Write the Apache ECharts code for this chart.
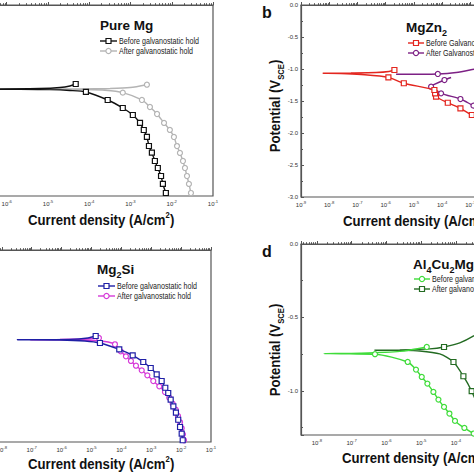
<!DOCTYPE html>
<html><head><meta charset="utf-8">
<script src="https://cdn.jsdelivr.net/npm/echarts@6/dist/echarts.min.js"></script>
<style>html,body{margin:0;padding:0;background:#fff}#c{width:474px;height:474px}</style>
</head><body><div id="c"></div>
<script>
// ---------- data (current density A/cm², potential V) ----------
const panelTitles = ['Pure Mg', 'MgZn{sub|2}', 'Mg{sub|2}Si', 'Al{sub|4}Cu{sub|2}Mg{sub|8}Si{sub|7}'];
const panelLetters = ['b', 'd'];
const legendA = ['Before galvanostatic hold', 'After galvanostatic hold'];
const legendB = ['Before Galvanostatic hold', 'After Galvanostatic hold'];
const legendC = ['Before galvanostatic hold', 'After galvanostatic hold'];
const legendD = ['Before galvanostatic hold', 'After galvanostatic hold'];
const xTitle = 'Current density (A/cm{sup|2})';
const yTitle = 'Potential (V{sub|SCE})';

const pureMgBeforeI = [7.2e-3,6.1e-3,5.5e-3,4.6e-3,3.9e-3,3.3e-3,2.8e-3,2.5e-3,2.1e-3,1.7e-3,1.14e-3,6.5e-4,2.8e-4,8.3e-5,3.4e-5,1.1e-5,2.1e-6,4e-8,3e-9,4e-8,6.8e-7,6.3e-6,1.95e-5,3.4e-5,4.7e-5];
const pureMgBeforeE = [-2.953,-2.811,-2.686,-2.56,-2.45,-2.32,-2.215,-2.07,-1.963,-1.853,-1.728,-1.618,-1.492,-1.366,-1.343,-1.329,-1.324,-1.322,-1.321,-1.319,-1.318,-1.312,-1.296,-1.272,-1.241];
const pureMgBeforeM = [1,1,1,1,1,1,1,1,1,1,1,1,1,1,0,0,0,0,0,0,0,0,0,0,1];

const pureMgAfterI = [2.92e-2,2.61e-2,2.34e-2,2.09e-2,1.87e-2,1.58e-2,1.34e-2,1.13e-2,9.0e-3,6.5e-3,4.4e-3,2.96e-3,1.89e-3,6.5e-4,2.4e-4,7.8e-5,1.9e-5,1e-7,1e-6,5.9e-5,3.2e-4,9.8e-4,2.5e-3];
const pureMgAfterE = [-2.953,-2.811,-2.686,-2.56,-2.45,-2.324,-2.215,-2.073,-1.963,-1.853,-1.712,-1.602,-1.492,-1.377,-1.340,-1.329,-1.324,-1.322,-1.321,-1.319,-1.311,-1.296,-1.252];
const pureMgAfterM = [1,1,1,1,1,1,1,1,1,1,1,1,1,1,0,0,0,0,0,0,0,0,1];

const mgZn2BeforeI = [3.16e-3,1.13e-3,4.46e-4,1.59e-4,6.1e-5,5.65e-5,5.33e-5,4.4e-6,1.25e-6,1.35e-7,2.6e-8,6e-9,5.9e-8,4.6e-7,1.3e-6,2.04e-6];
const mgZn2BeforeE = [-1.80,-1.719,-1.614,-1.527,-1.433,-1.380,-1.328,-1.223,-1.130,-1.086,-1.070,-1.067,-1.0625,-1.055,-1.039,-1.016];
const mgZn2BeforeM = [1,1,1,1,1,1,1,1,1,0,0,0,0,0,0,1];

const mgZn2AfterI = [3.6e-3,1.29e-3,4.46e-4,9.2e-5,4.07e-5,1.21e-4,2.08e-4,null,2.34e-6,7.05e-5,3.16e-4,1.48e-3,5.5e-3];
const mgZn2AfterE = [-1.656,-1.573,-1.469,-1.380,-1.277,-1.172,-1.133,null,-1.083,-1.078,-1.055,-1.0,-0.953];
const mgZn2AfterM = [1,1,1,1,1,1,0,0,0,1,0,0,0];

const mg2SiBeforeI = [1.13e-2,1.045e-2,9.2e-3,8.0e-3,6.7e-3,5.5e-3,4.47e-3,3.7e-3,2.95e-3,2.23e-3,1.52e-3,9.6e-4,5.4e-4,2.39e-4,8.5e-5,1.92e-5,6e-6,8.8e-7,3.26e-8,1.9e-7,1.9e-6,7.6e-6,1.38e-5];
const mg2SiBeforeE = [-2.973,-2.870,-2.766,-2.652,-2.542,-2.442,-2.339,-2.234,-2.152,-2.047,-1.942,-1.844,-1.750,-1.645,-1.552,-1.453,-1.422,-1.406,-1.402,-1.400,-1.397,-1.375,-1.344];
const mg2SiBeforeM = [1,1,1,1,1,1,1,1,1,1,1,1,1,1,1,1,0,0,0,0,0,0,1];

const mg2SiAfterI = [1.25e-2,1.15e-2,1.045e-2,9.2e-3,7.85e-3,6.6e-3,5.2e-3,4.0e-3,2.88e-3,1.86e-3,1.17e-3,7.4e-4,4.8e-4,3.08e-4,2.09e-4,1.42e-4,9.5e-5,6.1e-5,2.8e-5,6e-6,4.1e-7,8.7e-8,8.8e-7,6e-6,1.3e-5,1.77e-5];
const mg2SiAfterE = [-2.973,-2.880,-2.786,-2.692,-2.594,-2.495,-2.402,-2.308,-2.219,-2.130,-2.047,-1.958,-1.880,-1.808,-1.734,-1.661,-1.583,-1.473,-1.430,-1.409,-1.403,-1.402,-1.398,-1.391,-1.383,-1.375];
const mg2SiAfterM = [1,1,1,1,1,1,1,1,1,1,1,1,1,1,1,1,1,1,0,0,0,0,0,0,0,1];

const qBeforeI = [6.2e-4,3.24e-4,1.75e-4,9.4e-5,6.5e-5,4.55e-5,3.14e-5,2.25e-5,1.51e-5,1.04e-5,7.1e-6,4.1e-6,4.7e-7,8.9e-8,1.6e-8,1.74e-7,2.45e-6,1.45e-5];
const qBeforeE = [-1.313,-1.290,-1.252,-1.204,-1.154,-1.109,-1.059,-1.007,-0.950,-0.905,-0.855,-0.803,-0.750,-0.748,-0.746,-0.743,-0.731,-0.701];
const qBeforeM = [1,1,1,1,1,1,1,1,1,1,1,1,1,0,0,0,0,1];

const qAfterI = [4.8e-4,2.84e-4,1.64e-4,8.5e-5,3.42e-5,9.1e-6,2.43e-6,4.6e-7,2.43e-6,1.77e-5,4.55e-5,1.29e-4,3.24e-4,6.8e-4];
const qAfterE = [-1.13,-1.002,-0.900,-0.803,-0.748,-0.728,-0.724,-0.723,-0.721,-0.714,-0.701,-0.673,-0.626,-0.571];
const qAfterM = [1,1,1,1,0,0,0,0,0,0,1,0,0,0];

// ---------- helpers ----------
const SANS = "'Liberation Sans',Arial,sans-serif";
const AX = '#555';

function pts(I, E, M) {
  return I.map((v, k) => v == null ? '-' : (M[k] ? [v, E[k]] : {value: [v, E[k]], symbol: 'none'}));
}
function line(name, gi, I, E, M, color, sym, z) {
  return {
    type: 'line', name, xAxisIndex: gi, yAxisIndex: gi, data: pts(I, E, M),
    smooth: 0.25, symbol: sym, symbolSize: 5, showSymbol: true, clip: true, z: z,
    lineStyle: {color, width: 1.4},
    itemStyle: {color: '#fff', borderColor: color, borderWidth: 1.2},
    emphasis: {disabled: true}
  };
}
function xLog(gi, min, max, maxLabel) {
  return {
    type: 'log', logBase: 10, gridIndex: gi, min, max,
    axisLine: {show: true, lineStyle: {color: AX, width: 1.2}},
    axisTick: {show: true, inside: true, length: 3, lineStyle: {color: AX}},
    minorTick: {show: true, splitNumber: 9, length: 1.8, lineStyle: {color: AX}},
    splitLine: {show: false},
    axisLabel: {
      margin: 3, color: '#333', hideOverlap: false,
      formatter: v => {
        const l = Math.log10(v), n = Math.round(l);
        if (Math.abs(l - n) > 0.01 || n > maxLabel) return '';
        return '{b|10}{s|' + n + '}';
      },
      rich: {
        b: {fontSize: 6, fontFamily: SANS, color: '#333', lineHeight: 9},
        s: {fontSize: 4.2, fontFamily: SANS, color: '#333', verticalAlign: 'top', lineHeight: 4.5}
      }
    }
  };
}
function yLin(gi, min, opt, showLabels) {
  return Object.assign({
    type: 'value', gridIndex: gi, min, max: 0,
    axisLine: {show: true, lineStyle: {color: AX, width: 1.2}},
    axisTick: {show: true, inside: true, length: 3, lineStyle: {color: AX}},
    minorTick: {show: true, splitNumber: 2, length: 2, lineStyle: {color: AX}},
    splitLine: {show: false},
    axisLabel: {
      show: showLabels, margin: 3, fontSize: 6, fontFamily: SANS, color: '#333',
      formatter: v => (Math.abs(v * 2 - Math.round(v * 2)) > 1e-6) ? '' : v.toFixed(1)
    }
  }, opt || {});
}
function legendItem(x1, x2, y, color, sym, label) {
  const xm = (x1 + x2) / 2;
  const mark = sym === 'rect'
    ? {type: 'rect', shape: {x: xm - 2.5, y: y - 2.5, width: 5, height: 5}, style: {fill: '#fff', stroke: color, lineWidth: 1.2}}
    : {type: 'circle', shape: {cx: xm, cy: y, r: 2.6}, style: {fill: '#fff', stroke: color, lineWidth: 1.2}};
  return [
    {type: 'line', shape: {x1, y1: y, x2, y2: y}, style: {stroke: color, lineWidth: 1.4}},
    mark,
    {type: 'text', x: x2 + 2, y: y, scaleX: 0.84, style: {text: label, fontSize: 8.5, fontFamily: SANS, fill: '#222', align: 'left', verticalAlign: 'middle'}}
  ];
}
const titleRich = {sub: {fontSize: 9, fontWeight: 'bold', fontFamily: SANS, fill: '#111', verticalAlign: 'bottom', lineHeight: 9}};
function title(x, y, t) {
  return {type: 'text', x, y, style: {text: t, fontSize: 13.5, fontWeight: 'bold', fontFamily: SANS, fill: '#111', lineHeight: 20, align: 'left', verticalAlign: 'middle', rich: titleRich}};
}
function xName(x, y) {
  return {type: 'text', x, y, scaleX: 0.85, style: {text: xTitle, fontSize: 15.5, fontWeight: 'bold', fontFamily: SANS, fill: '#111', lineHeight: 20, align: 'left', verticalAlign: 'middle',
    rich: {sup: {fontSize: 9, fontWeight: 'bold', fontFamily: SANS, fill: '#111', verticalAlign: 'top', lineHeight: 9}}}};
}
function yName(x, y) {
  return {type: 'text', x, y, rotation: Math.PI / 2, scaleX: 0.85, style: {text: yTitle, fontSize: 15.5, fontWeight: 'bold', fontFamily: SANS, fill: '#111', lineHeight: 20, align: 'center', verticalAlign: 'middle',
    rich: {sub: {fontSize: 9, fontWeight: 'bold', fontFamily: SANS, fill: '#111', verticalAlign: 'bottom', lineHeight: 9}}}};
}

const C = {
  black: '#111111', grey: '#b4b4b4', red: '#e3261f', purple: '#7d2185',
  blue: '#1f1fa6', magenta: '#d63ad8', lgreen: '#3fdc3a', dgreen: '#236b22'
};

const gridBox = {show: true, borderColor: AX, borderWidth: 1.2, backgroundColor: 'transparent', containLabel: false, outerBoundsMode: 'none'};

const option = {
  animation: false,
  backgroundColor: '#fff',
  grid: [
    Object.assign({left: -117, top: 5, width: 330, height: 191}, gridBox),
    Object.assign({left: 301, top: 5, width: 254, height: 192}, gridBox),
    Object.assign({left: -28, top: 250, width: 239, height: 192}, gridBox),
    Object.assign({left: 301, top: 244, width: 294, height: 191}, gridBox)
  ],
  xAxis: [xLog(0, 1e-9, 1e-1, -1), xLog(1, 1e-9, 1e0, -3), xLog(2, 1e-9, 1e-1, -1), xLog(3, 3.5e-9, 1e0, -4)],
  yAxis: [
    yLin(0, -3, {interval: 0.5}, false),
    yLin(1, -3, {interval: 0.5}, true),
    yLin(2, -3, {interval: 0.5}, false),
    yLin(3, -1.3, {splitNumber: 3}, true)
  ],
  series: [
    line(legendA[1], 0, pureMgAfterI, pureMgAfterE, pureMgAfterM, C.grey, 'circle', 2),
    line(legendA[0], 0, pureMgBeforeI, pureMgBeforeE, pureMgBeforeM, C.black, 'rect', 3),
    line(legendB[1], 1, mgZn2AfterI, mgZn2AfterE, mgZn2AfterM, C.purple, 'circle', 2),
    line(legendB[0], 1, mgZn2BeforeI, mgZn2BeforeE, mgZn2BeforeM, C.red, 'rect', 3),
    line(legendC[1], 2, mg2SiAfterI, mg2SiAfterE, mg2SiAfterM, C.magenta, 'circle', 2),
    line(legendC[0], 2, mg2SiBeforeI, mg2SiBeforeE, mg2SiBeforeM, C.blue, 'rect', 3),
    line(legendD[1], 3, qAfterI, qAfterE, qAfterM, C.dgreen, 'rect', 2),
    line(legendD[0], 3, qBeforeI, qBeforeE, qBeforeM, C.lgreen, 'circle', 3)
  ],
  graphic: [].concat(
    [title(100, 25, panelTitles[0]), title(406, 27, panelTitles[1]), title(97, 269, panelTitles[2]), title(413, 264, panelTitles[3])],
    legendItem(100, 117, 41, C.black, 'rect', legendA[0]),
    legendItem(100, 117, 51, C.grey, 'circle', legendA[1]),
    legendItem(408, 424, 43, C.red, 'rect', legendB[0]),
    legendItem(408, 424, 53, C.purple, 'circle', legendB[1]),
    legendItem(98, 115, 286, C.blue, 'rect', legendC[0]),
    legendItem(98, 115, 296, C.magenta, 'circle', legendC[1]),
    legendItem(414, 430, 279, C.lgreen, 'circle', legendD[0]),
    legendItem(414, 430, 289, C.dgreen, 'rect', legendD[1]),
    [
      xName(28, 220), xName(343, 221), xName(28, 464), xName(342, 458),
      yName(275, 106), yName(275, 350),
      {type: 'text', x: 267, y: 12, style: {text: panelLetters[0], fontSize: 16, fontWeight: 'bold', fontFamily: SANS, fill: '#111', align: 'center', verticalAlign: 'middle'}},
      {type: 'text', x: 267, y: 251, style: {text: panelLetters[1], fontSize: 16, fontWeight: 'bold', fontFamily: SANS, fill: '#111', align: 'center', verticalAlign: 'middle'}}
    ]
  )
};

const chart = echarts.init(document.getElementById('c'), null, {renderer: 'svg', width: 474, height: 474});
chart.setOption(option);
</script>
</body></html>
